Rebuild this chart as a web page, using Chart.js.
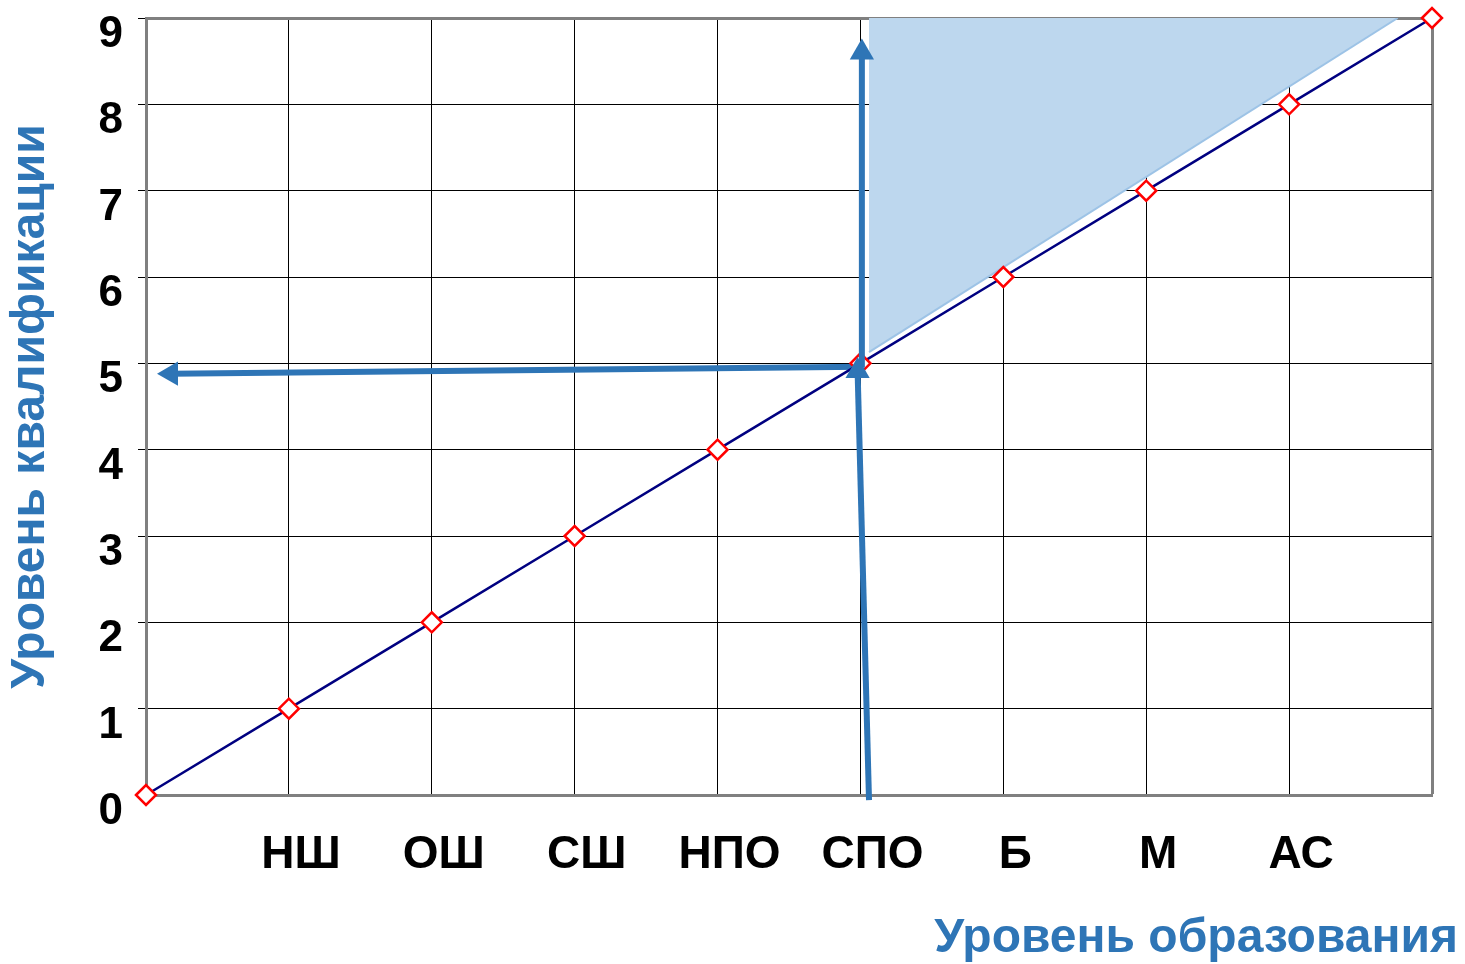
<!DOCTYPE html>
<html>
<head>
<meta charset="utf-8">
<script src="https://cdn.jsdelivr.net/npm/chart.js@4"></script>
<style>
  body { margin: 0; background: #fff; }
</style>
</head>
<body>
<canvas id="myChart" width="1465" height="964"></canvas>
<script>
// data
var levels = ['', 'НШ', 'ОШ', 'СШ', 'НПО', 'СПО', 'Б', 'М', 'АС', '']
var education = [0, 1, 2, 3, 4, 5, 6, 7, 8, 9]
var qualification = [0, 1, 2, 3, 4, 5, 6, 7, 8, 9]
var shadedEdge = [{ x: 5.06, y: 5.13 }, { x: 8.76, y: 9 }]
var arrowUpLow = [{ x: 5.06, y: -0.06 }, { x: 4.98, y: 4.91 }]
var arrowUpHigh = [{ x: 5.01, y: 4.95 }, { x: 5.01, y: 8.6 }]
var arrowLeft = [{ x: 5.01, y: 4.96 }, { x: 0.175, y: 4.88 }]
var xTitle = 'Уровень образования'
var yTitle = 'Уровень квалификации'

const font = "'Liberation Sans', Arial, sans-serif"
const blue = '#2E75B6'

let linePoints = []
for (let i = 0; i < education.length; i++) {
    linePoints.push({ x: education[i], y: qualification[i] })
}

const xTitlePlugin = {
    id: 'xTitle',
    afterDraw(chart) {
        const ctx = chart.ctx
        ctx.save()
        ctx.font = 'bold 48px ' + font
        ctx.fillStyle = blue
        ctx.textAlign = 'right'
        ctx.textBaseline = 'alphabetic'
        ctx.fillText(xTitle, chart.width - 7, 952)
        ctx.restore()
    }
}

const abc = document.getElementById('myChart');
const myChart = new Chart(abc, {
    type: 'line',
    data: {
        datasets: [
            {
                data: shadedEdge,
                borderColor: '#9DC3E6',
                borderWidth: 2,
                backgroundColor: '#BDD7EE',
                fill: { value: 9 },
                pointRadius: 0,
                order: 4
            },
            {
                data: arrowLeft,
                borderColor: blue,
                borderWidth: 6,
                pointRadius: [0, 14],
                pointStyle: 'triangle',
                rotation: [0, -90],
                pointBackgroundColor: blue,
                pointBorderWidth: 0,
                clip: false,
                order: 3
            },
            {
                data: linePoints,
                borderColor: '#000080',
                borderWidth: 2.5,
                pointStyle: 'rectRot',
                pointRadius: 10,
                pointBorderColor: '#FF0000',
                pointBorderWidth: 2.5,
                pointBackgroundColor: '#FFFFFF',
                clip: false,
                order: 2
            },
            {
                data: arrowUpLow,
                borderColor: blue,
                borderWidth: 6,
                pointRadius: [0, 14],
                pointStyle: 'triangle',
                pointBackgroundColor: blue,
                pointBorderWidth: 0,
                clip: false,
                order: 1
            },
            {
                data: arrowUpHigh,
                borderColor: blue,
                borderWidth: 6,
                pointRadius: [0, 14],
                pointStyle: 'triangle',
                pointBackgroundColor: blue,
                pointBorderWidth: 0,
                clip: false,
                order: 1
            }
        ]
    },
    options: {
        responsive: false,
        animation: false,
        layout: { padding: { left: 0, right: 33, top: 18, bottom: 0 } },
        plugins: {
            legend: { display: false },
            tooltip: { enabled: false }
        },
        scales: {
            x: {
                type: 'linear',
                min: 0,
                max: 9,
                afterBuildTicks: (scale) => {
                    scale.ticks = education.map((v) => ({ value: v }))
                },
                afterFit: (scale) => {
                    scale.height = 169
                    scale.paddingLeft = 0
                    scale.paddingRight = 0
                },
                ticks: {
                    autoSkip: false,
                    maxRotation: 0,
                    labelOffset: 12,
                    padding: 33,
                    color: '#000',
                    font: { family: font, size: 46, weight: 'bold' },
                    callback: (value) => levels[Math.round(value)]
                },
                grid: {
                    drawTicks: false,
                    color: (c) => c.tick && c.tick.value === 9 ? '#808080' : '#000',
                    lineWidth: (c) => c.tick && c.tick.value === 9 ? 3 : 1
                },
                border: { color: '#808080', width: 3 }
            },
            y: {
                type: 'linear',
                min: 0,
                max: 9,
                afterBuildTicks: (scale) => {
                    scale.ticks = qualification.map((v) => ({ value: v }))
                },
                afterFit: (scale) => {
                    scale.width = 146
                    scale.paddingTop = 0
                    scale.paddingBottom = 0
                },
                ticks: {
                    padding: 15,
                    labelOffset: 17,
                    color: '#000',
                    font: { family: font, size: 44, weight: 'bold' }
                },
                grid: {
                    tickLength: 8,
                    tickColor: '#000',
                    tickWidth: 1,
                    color: (c) => c.tick && c.tick.value === 9 ? '#808080' : '#000',
                    lineWidth: (c) => c.tick && c.tick.value === 9 ? 3 : 1
                },
                border: { color: '#808080', width: 3 },
                title: {
                    display: true,
                    text: yTitle,
                    color: blue,
                    padding: { top: 3, bottom: 0 },
                    font: { family: font, size: 48, weight: 'bold', lineHeight: 1.15 }
                }
            }
        }
    },
    plugins: [xTitlePlugin]
});
</script>
</body>
</html>
